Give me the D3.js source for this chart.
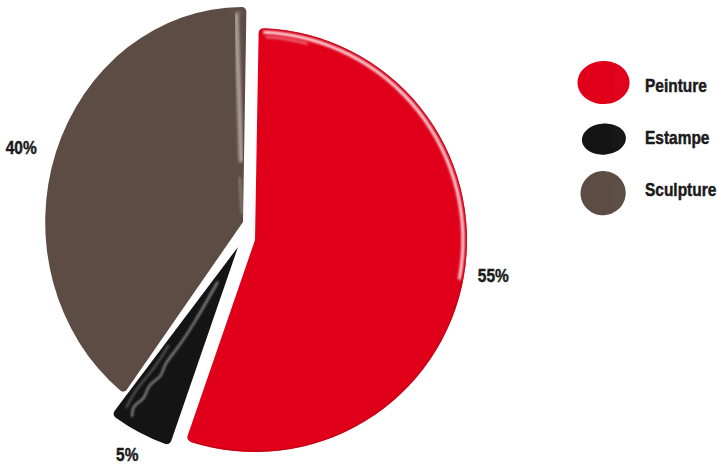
<!DOCTYPE html>
<html>
<head>
<meta charset="utf-8">
<script src="https://cdn.jsdelivr.net/npm/d3@7"></script>
<style>
  body { margin: 0; background: #ffffff; }
  text { font-family: "Liberation Sans", Arial, sans-serif; font-weight: bold; fill: #1a1a1a; stroke: #1a1a1a; stroke-width: 0.45; }
</style>
</head>
<body>
<svg id="chart" width="718" height="468"></svg>
<script>
// Share of works by technique
const categories = ["Peinture", "Estampe", "Sculpture"];
const shares = [55, 5, 40];
const shareLabels = ["55%", "5%", "40%"];
const palette = ["#e1001a", "#141414", "#5c4c43"];

const deg = Math.PI / 180;
const svg = d3.select("#chart");

// Exploded placement of each slice: centre, radius, horizontal foreshortening,
// and where its percentage label sits (radius along the mid-angle, vertical nudge)
const placement = {
  Peinture:  { cx: 255, cy: 240, r: 212, sx: 1,    lr: 242, ldy: -6 },
  Estampe:   { cx: 238, cy: 247, r: 210, sx: 1,    lr: 236, ldy: 0 },
  Sculpture: { cx: 243, cy: 222, r: 215, sx: 0.92, lr: 255, ldy: 9 }
};

// condensed bold lettering
const narrow = 0.86;
function label(parent, x, y, str, anchor) {
  return parent.append("g")
    .attr("transform", `translate(${x},${y}) scale(${narrow},1)`)
    .append("text")
    .attr("text-anchor", anchor)
    .attr("dominant-baseline", "central")
    .attr("font-size", 18)
    .text(str);
}

const defs = svg.append("defs");
defs.append("filter").attr("id", "soft")
  .attr("x", "-20%").attr("y", "-20%").attr("width", "140%").attr("height", "140%")
  .append("feGaussianBlur").attr("stdDeviation", 0.9);
defs.append("filter").attr("id", "softer")
  .attr("x", "-20%").attr("y", "-20%").attr("width", "140%").attr("height", "140%")
  .append("feGaussianBlur").attr("stdDeviation", 1.5);

// Rim highlight gradients (fade along the sheen)
const redSheen = defs.append("linearGradient").attr("id", "redSheen")
  .attr("gradientUnits", "userSpaceOnUse").attr("x1", 260).attr("y1", 30).attr("x2", 470).attr("y2", 280);
redSheen.append("stop").attr("offset", 0).attr("stop-color", "#ffe8ea").attr("stop-opacity", 0.95);
redSheen.append("stop").attr("offset", 0.45).attr("stop-color", "#ffd0d5").attr("stop-opacity", 0.55);
redSheen.append("stop").attr("offset", 0.8).attr("stop-color", "#ffc0c6").attr("stop-opacity", 0.25);
redSheen.append("stop").attr("offset", 1).attr("stop-color", "#ffc0c6").attr("stop-opacity", 0);

const brownSheen = defs.append("linearGradient").attr("id", "brownSheen")
  .attr("gradientUnits", "userSpaceOnUse").attr("x1", 245).attr("y1", 10).attr("x2", 110).attr("y2", 70);
brownSheen.append("stop").attr("offset", 0).attr("stop-color", "#e6dfda").attr("stop-opacity", 1);
brownSheen.append("stop").attr("offset", 0.6).attr("stop-color", "#d4cac4").attr("stop-opacity", 0.8);
brownSheen.append("stop").attr("offset", 1).attr("stop-color", "#cfc5bf").attr("stop-opacity", 0);

const brownEdge = defs.append("linearGradient").attr("id", "brownEdge")
  .attr("gradientUnits", "userSpaceOnUse").attr("x1", 0).attr("y1", 10).attr("x2", 0).attr("y2", 130);
brownEdge.append("stop").attr("offset", 0).attr("stop-color", "#cfc5bf").attr("stop-opacity", 0.75);
brownEdge.append("stop").attr("offset", 1).attr("stop-color", "#cfc5bf").attr("stop-opacity", 0);

const pie = d3.pie().sort(null).value(d => d.v)
  .startAngle(1 * deg).endAngle(361 * deg);
const slices = pie(categories.map((c, i) => ({ c, v: shares[i], i })));

const pieG = svg.append("g");

slices.forEach(s => {
  const p = placement[s.data.c];
  const g = pieG.append("g")
    .attr("transform", `translate(${p.cx},${p.cy}) scale(${p.sx},1)`);

  const arc = d3.arc().innerRadius(0).outerRadius(p.r).cornerRadius(5);
  g.append("path").attr("d", arc(s)).attr("fill", palette[s.data.i]);

  if (s.data.c === "Peinture") {
    // darker outer lip, then a glossy band just inside it
    const lip = d3.arc().innerRadius(p.r - 1.5).outerRadius(p.r);
    g.append("path")
      .attr("d", lip({ startAngle: s.startAngle + 1.5 * deg, endAngle: s.endAngle - 1.5 * deg }))
      .attr("fill", "#b50012").attr("opacity", 0.6);
    const rim = d3.arc().innerRadius(p.r - 5.5).outerRadius(p.r - 2.5).cornerRadius(1.5);
    svg.append("path")
      .attr("d", rim({ startAngle: s.startAngle + 1.2 * deg, endAngle: s.startAngle + 100 * deg }))
      .attr("transform", `translate(${p.cx},${p.cy})`)
      .attr("fill", "url(#redSheen)")
      .attr("filter", "url(#soft)");
    // short bright streak near the top corner
    const glint = d3.arc().innerRadius(p.r - 10).outerRadius(p.r - 7.5);
    svg.append("path")
      .attr("d", glint({ startAngle: s.startAngle + 2 * deg, endAngle: s.startAngle + 14 * deg }))
      .attr("transform", `translate(${p.cx},${p.cy})`)
      .attr("fill", "#fff").attr("opacity", 0.4)
      .attr("filter", "url(#soft)");
  }

  if (s.data.c === "Sculpture") {
    const rim = d3.arc().innerRadius(p.r - 8).outerRadius(p.r - 3.5);
    g.append("path")
      .attr("d", rim({ startAngle: s.endAngle - 55 * deg, endAngle: s.endAngle - 1.5 * deg }))
      .attr("fill", "url(#brownSheen)")
      .attr("filter", "url(#soft)");
    // soft light band down the straight edge
    const a = s.endAngle - 3 * deg;
    const edge = d3.line()([
      [Math.sin(a) * 60, -Math.cos(a) * 60],
      [Math.sin(a) * (p.r - 6), -Math.cos(a) * (p.r - 6)]
    ]);
    g.append("path").attr("d", edge)
      .attr("stroke", "url(#brownEdge)").attr("stroke-width", 4.5)
      .attr("fill", "none").attr("filter", "url(#softer)");
    const a2 = s.endAngle - 6 * deg;
    const low = d3.line()([
      [Math.sin(a2) * 8, -Math.cos(a2) * 8],
      [Math.sin(a2) * 45, -Math.cos(a2) * 45]
    ]);
    g.append("path").attr("d", low)
      .attr("stroke", "#a89d97").attr("stroke-width", 3).attr("opacity", 0.6)
      .attr("fill", "none").attr("filter", "url(#softer)");
  }

  if (s.data.c === "Estampe") {
    // glossy streaks along the narrow wedge
    const streak = d3.lineRadial().curve(d3.curveBasis)
      .angle(d => d[0]).radius(d => d[1]);
    const a0 = s.startAngle, a1 = s.endAngle;
    const span = a1 - a0;
    const main = [
      [a0 + span * 0.62, 40], [a0 + span * 0.6, 90], [a0 + span * 0.66, 120],
      [a0 + span * 0.74, 140], [a0 + span * 0.62, 150], [a0 + span * 0.8, 165],
      [a0 + span * 0.68, 178], [a0 + span * 0.82, 190], [a0 + span * 0.72, 200]
    ];
    g.append("path").attr("d", streak(main))
      .attr("stroke", "#a0a0a0").attr("stroke-width", 2.2).attr("fill", "none")
      .attr("opacity", 0.85).attr("filter", "url(#soft)");
    const side = [
      [a0 + span * 0.9, 120], [a0 + span * 0.86, 150], [a0 + span * 0.93, 172],
      [a0 + span * 0.88, 196]
    ];
    g.append("path").attr("d", streak(side))
      .attr("stroke", "#7a7a7a").attr("stroke-width", 1.8).attr("fill", "none")
      .attr("opacity", 0.8).attr("filter", "url(#soft)");
  }

  // percentage label outside the slice
  const mid = (s.startAngle + s.endAngle) / 2;
  label(svg,
    p.cx + p.sx * Math.sin(mid) * p.lr,
    p.cy - Math.cos(mid) * p.lr + p.ldy,
    shareLabels[s.data.i], "middle");
});

// Legend with glossy drop-shaped swatches
const blobShapes = {
  Peinture:  { rx: 26, ry: 21.5, k: 0.06, phi: 200, tilt: 0 },
  Estampe:   { rx: 22, ry: 15.5, k: 0.05, phi: 180, tilt: -4 },
  Sculpture: { rx: 22.5, ry: 22, k: 0.12, phi: 225, tilt: 0 }
};
const blobY = d3.scalePoint().domain(categories).range([83, 195]);
const textY = d3.scalePoint().domain(categories).range([86, 190]);
const legend = svg.append("g");

categories.forEach((c, i) => {
  const b = blobShapes[c];
  const y = blobY(c);
  const cx = 605;
  const pts = d3.range(0, 360, 10).map(t => {
    const r = 1 + b.k * Math.cos((t - b.phi) * deg);
    return [Math.cos(t * deg) * b.rx * r, Math.sin(t * deg) * b.ry * r];
  });
  const g = legend.append("g").attr("transform", `translate(${cx},${y}) rotate(${b.tilt})`);
  g.append("path").attr("d", d3.line().curve(d3.curveCardinalClosed)(pts))
    .attr("fill", palette[i]);
  const hl = d3.arc().innerRadius(0.6).outerRadius(0.74);
  g.append("path")
    .attr("d", hl({ startAngle: 45 * deg, endAngle: 125 * deg }))
    .attr("transform", `scale(${b.rx},${b.ry})`)
    .attr("fill", "#fff").attr("opacity", 0.7).attr("filter", "url(#soft)");

  label(legend, 645, textY(c), c, "start");
});
</script>
</body>
</html>
